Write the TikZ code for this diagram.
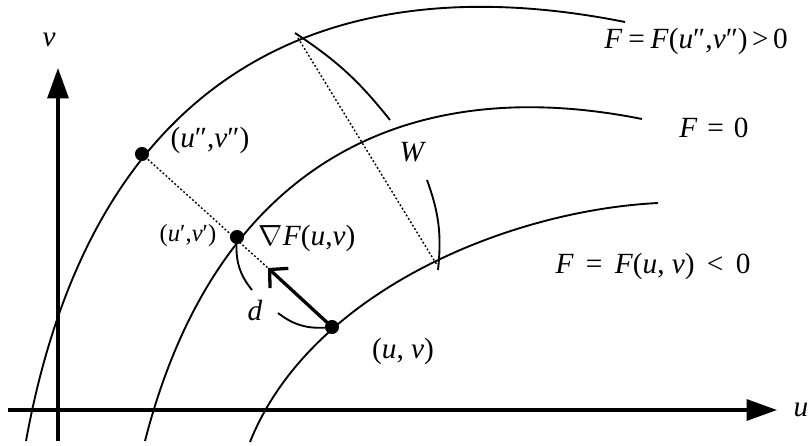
\documentclass[tikz,border=0pt]{standalone}
\usepackage{fontspec}
\setmainfont{Liberation Serif}
\usetikzlibrary{arrows.meta}
\begin{document}
\begin{tikzpicture}[x=0.03cm,y=-0.03cm,
  curve/.style={line width=1.6pt},
  axis/.style={line width=2.6pt,-{Triangle[length=26pt,width=18pt]}},
  dots/.style={line width=1.2pt,dash pattern=on 1.6pt off 1.8pt},
  dot/.style={circle,fill,inner sep=0pt,minimum size=12pt},
  lbl/.style={font=\fontsize{25}{30}\selectfont,inner sep=0pt},
  sml/.style={font=\fontsize{21}{25}\selectfont,inner sep=0pt}]
\useasboundingbox (0,0) rectangle (811,445);
% axes
\coordinate (O1) at (58,441);
\coordinate (V) at (58,68);
\coordinate (O2) at (8,410);
\coordinate (U) at (777,410);
\draw[axis] (O1)--(V);
\draw[axis] (O2)--(U);
\node[lbl] (vlab) at (49,40) {\textit{v}};
\node[lbl] (ulab) at (801,410) {\textit{u}};
% level curves
\draw[curve] (26,441) .. controls (96,56) and (345,-34) .. (625,22);
\draw[curve] (145,441) .. controls (215,168) and (402,71) .. (642,119);
\draw[curve] (250,442) .. controls (310,292) and (508,210.5) .. (658,203);
% points
\node[dot] (uvpp) at (142,154) {};
\node[dot] (uvp) at (237,237) {};
\node[dot] (uv) at (332,327) {};
\coordinate (gtip) at (268,268);
\draw[dots] (uvpp.center)--(gtip);
\draw[line width=2.8pt,-{Straight Barb[sharp,length=11pt,width=23pt]}] (uv.center)--(gtip);
% width W
\coordinate (w1) at (298,38);
\coordinate (w2) at (437,265);
\coordinate (wa) at (295,33);
\coordinate (wb) at (390,120);
\coordinate (wc) at (427,180);
\coordinate (wd) at (438,270);
\draw[dots] (w1)--(w2);
\draw[curve] (wa) to[bend left=9] (wb);
\draw[curve] (wc) to[bend left=13] (wd);
% distance d
\coordinate (d1) at (252,290);
\coordinate (d2) at (278,313);
\draw[curve] (uvp) to[bend right=20] (d1);
\draw[curve] (d2) to[bend right=20] (uv);
% labels
\node[lbl] (Fpos) at (696,41) {\textit{F}\hspace{0.2em}=\hspace{0.2em}\textit{F}(\textit{u}″,\textit{v}″)\hspace{0.15em}>\hspace{0.15em}0};
\node[lbl] (Fzero) at (714,128) {\textit{F}\hspace{0.34em}=\hspace{0.34em}0};
\node[lbl] (Fneg) at (653,266) {\textit{F}\hspace{0.42em}=\hspace{0.42em}\textit{F}(\textit{u}, \textit{v})\hspace{0.42em}<\hspace{0.42em}0};
\node[lbl] (Wlab) at (413,152) {\textit{W}};
\node[lbl] (grad) at (307,238) {$\nabla$\textit{F}(\textit{u},\textit{v})};
\node[sml] (uvplab) at (188,236) {(\textit{u}′,\textit{v}′)};
\node[lbl] (uvpplab) at (210,140) {(\textit{u}″,\textit{v}″)};
\node[lbl] (dlab) at (255,310) {\textit{d}};
\node[lbl] (uvlab) at (403,351) {(\textit{u}, \textit{v})};
\end{tikzpicture}
\end{document}
